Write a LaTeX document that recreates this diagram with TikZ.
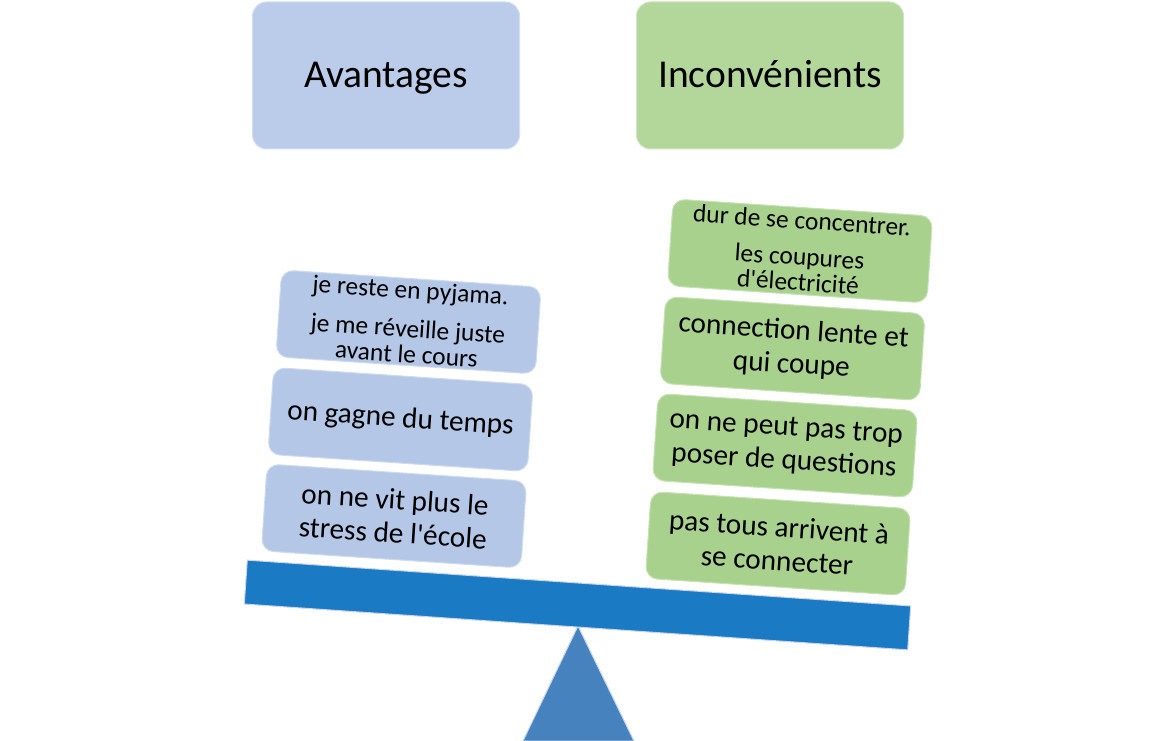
\documentclass[tikz,border=0pt]{standalone}
\usepackage{fontspec}
\setmainfont{Carlito}
\newfontfamily\carl{Carlito}
\definecolor{hdrA}{HTML}{BBCCEA}
\definecolor{hdrI}{HTML}{B3D69B}
\definecolor{boxA}{HTML}{B4C7E7}
\definecolor{boxI}{HTML}{A9D18E}
\definecolor{beamc}{HTML}{1B7AC4}
\definecolor{pivotc}{HTML}{4682BD}
\definecolor{edgeL}{HTML}{C8D6EE}
\begin{document}
\begin{tikzpicture}[x=1pt,y=-1pt,
  hdr/.style={rounded corners=14pt, minimum width=267pt, minimum height=147pt,
    font=\carl\fontsize{39.5}{47}\selectfont, inner sep=0pt, line width=1pt,
    text height=27pt, text depth=2pt},
  itembox/.style={rounded corners=12pt, minimum width=260pt, minimum height=87pt,
    rotate=-3.8, align=center, inner sep=2pt, line width=1pt},
  abox/.style={itembox, fill=boxA, draw=boxA!65!white},
  ibox/.style={itembox, fill=boxI, draw=boxI!65!white},
  bigtxt/.style={font=\carl\fontsize{29.3}{33.5}\selectfont},
  smalltxt/.style={font=\carl\fontsize{25.5}{25.5}\selectfont}
]
\useasboundingbox (0,0) rectangle (1157,741);
% headers
\node[hdr, fill=hdrA, draw=hdrA!65!white] (avant) at (386,75.5) {Avantages};
\node[hdr, fill=hdrI, draw=hdrI!65!white] (incon) at (770,75.5) {Inconvénients};
% left items
\node[abox, smalltxt] (a1) at (408.5,322) {je reste en pyjama.\\[13pt]je me réveille juste\\avant le cours};
\node[abox, bigtxt] (a2) at (400.5,419.5) {on gagne du temps};
\node[abox, bigtxt] (a3) at (394,516) {on ne vit plus le\\stress de l'école};
% right items
\node[ibox, smalltxt] (i1) at (800,251) {dur de se concentrer.\\[11pt]les coupures\\d'électricité};
\node[ibox, bigtxt] (i2) at (792.5,348.5) {connection lente et\\qui coupe};
\node[ibox, bigtxt] (i3) at (785,445.5) {on ne peut pas trop\\poser de questions};
\node[ibox, bigtxt] (i4) at (778,543.5) {pas tous arrivent à\\se connecter};
% pivot and beam
\path[fill=pivotc, draw=edgeL, line width=1pt] (578,626) -- (634,741) -- (523,741) -- cycle;
\node[fill=beamc, draw=edgeL, line width=1pt, minimum width=665pt, minimum height=44pt,
  rotate=-3.95, inner sep=0pt] (beam) at (577.5,605) {};
\end{tikzpicture}
\end{document}
